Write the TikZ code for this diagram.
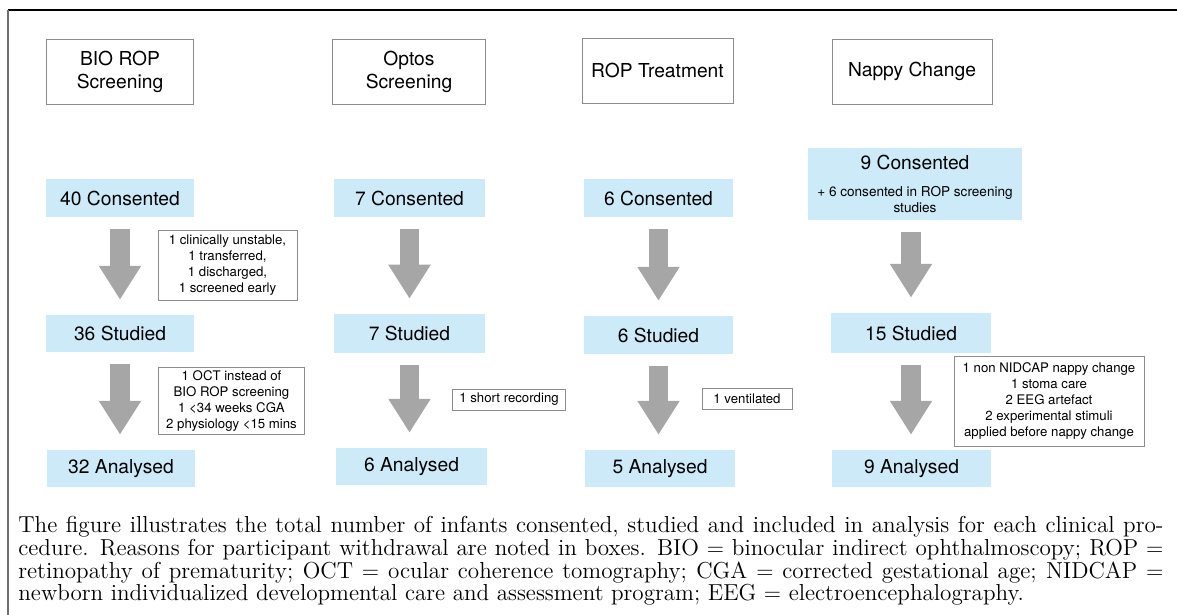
\documentclass[tikz,border=0pt]{standalone}
\usepackage{fontspec}
\newfontfamily\diagfont{TeX Gyre Heros}
\usetikzlibrary{arrows.meta}
\definecolor{stageblue}{HTML}{CCEAF8}
\definecolor{arrowgray}{HTML}{A6A6A6}
\definecolor{boxgray}{HTML}{8C8C8C}
\definecolor{framegray}{HTML}{6E6E6E}

\begin{document}
\begin{tikzpicture}[x=0.53pt, y=-0.53pt,
  hdr/.style={draw=boxgray, line width=0.5pt, minimum height=34.45pt, align=center, inner sep=0pt, font=\diagfont\fontsize{10.2}{12.2}\selectfont},
  stage/.style={fill=stageblue, minimum height=20.1pt, align=center, inner sep=0pt, font=\diagfont\fontsize{10.2}{12.2}\selectfont},
  note/.style={draw=boxgray, line width=0.5pt, align=center, inner sep=0pt, font=\diagfont\fontsize{7}{8.5}\selectfont},
  bigarrow/.style={draw=arrowgray, line width=10.1pt, -{Triangle[width=21.2pt, length=18pt]}, shorten <=6.4pt, shorten >=7.9pt}]
\useasboundingbox (0,0) rectangle (1177,615);
% frame round the figure
\draw[black, line width=0.7pt] (8,10) -- (1177,10);
\draw[framegray, line width=1.1pt] (8,10) -- (8,615);

% procedures
\node[hdr, minimum width=78.4pt] (bio) at (120,71.5) {BIO ROP\\Screening};
\node[hdr, minimum width=80.6pt] (optos) at (409,71.5) {Optos\\Screening};
\node[hdr, minimum width=80pt] (treat) at (657.5,70.5) {ROP Treatment};
\node[hdr, minimum width=84.8pt] (nappy) at (912,71.5) {Nappy Change};

% consented
\node[stage, minimum width=78.4pt] (cons1) at (120,198) {40 Consented};
\node[stage, minimum width=80pt] (cons2) at (409.5,198) {7 Consented};
\node[stage, minimum width=79pt] (cons3) at (658.5,198) {6 Consented};
\node[stage, minimum width=113.4pt, minimum height=38.2pt, font=\diagfont\fontsize{7.2}{8.5}\selectfont] (cons4) at (915,184)
  {{\fontsize{10.2}{12.2}\selectfont 9 Consented}\\[5.8pt]+ 6 consented in ROP screening\\studies};

% studied
\node[stage, minimum width=78.4pt, minimum height=19.6pt] (stud1) at (120,333.5) {36 Studied};
\node[stage, minimum width=80pt, minimum height=20.7pt] (stud2) at (409.5,333.5) {7 Studied};
\node[stage, minimum width=79pt] (stud3) at (658.5,335) {6 Studied};
\node[stage, minimum width=84.8pt, minimum height=21.2pt] (stud4) at (911,333) {15 Studied};

% analysed
\node[stage, minimum width=78.4pt, minimum height=19.6pt] (anal1) at (121,468.5) {32 Analysed};
\node[stage, minimum width=80pt, minimum height=19.6pt] (anal2) at (411.5,466.5) {6 Analysed};
\node[stage, minimum width=79.5pt, minimum height=19.6pt] (anal3) at (660,468.5) {5 Analysed};
\node[stage, minimum width=84.3pt, minimum height=19.6pt] (anal4) at (911.5,468.5) {9 Analysed};

% withdrawals
\node[note, minimum width=73.7pt, minimum height=36.6pt] (note1) at (227.5,265.5)
  {1 clinically unstable,\\1 transferred,\\1 discharged,\\1 screened early};
\node[note, minimum width=76.9pt, minimum height=36pt] (note2) at (231.5,401)
  {1 OCT instead of\\BIO ROP screening\\1 <34 weeks CGA\\2 physiology <15 mins};
\node[note, minimum width=59.4pt, minimum height=11.1pt] (note3) at (509,399.5) {1 short recording};
\node[note, minimum width=47.7pt, minimum height=11.1pt] (note4) at (747,398.5) {1 ventilated};
\node[note, minimum width=100.7pt, minimum height=47.7pt] (note5) at (1049,401)
  {1 non NIDCAP nappy change\\1 stoma care\\2 EEG artefact\\2 experimental stimuli\\applied before nappy change};

\foreach \i in {1,...,4} % edit here for the grey arrows
{
\draw[bigarrow] (stud\i.north |- cons\i.south) -- (stud\i.north);
\draw[bigarrow] (stud\i.south) -- (stud\i.south |- anal\i.north);
}

\node[anchor=north west, inner sep=0pt, text width=606.9pt, align=justify, font=\fontsize{12.25}{12.05}\selectfont] (caption) at (18,516)
  {The figure illustrates the total number of infants consented, studied and included in analysis for each clinical pro-\linebreak cedure. Reasons for participant withdrawal are noted in boxes. BIO $=$ binocular indirect ophthalmoscopy; ROP $=$\linebreak retinopathy of prematurity; OCT $=$ ocular coherence tomography; CGA $=$ corrected gestational age; NIDCAP $=$\linebreak newborn individualized developmental care and assessment program; EEG $=$ electroencephalography.};
\end{tikzpicture}
\end{document}
